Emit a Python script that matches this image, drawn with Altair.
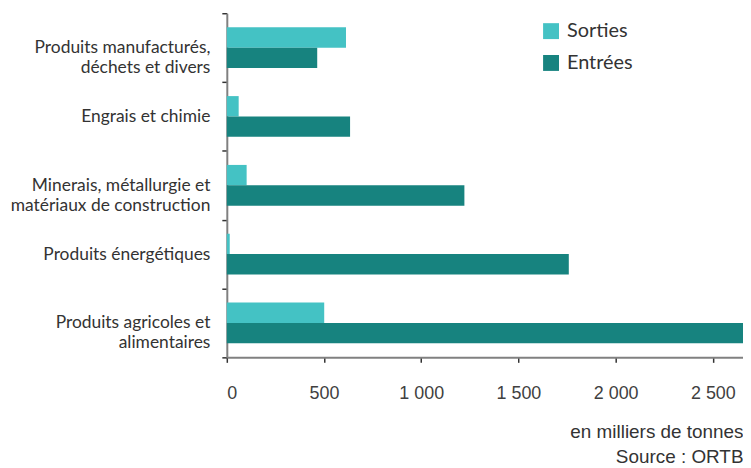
import altair as alt
import pandas as pd

categories = [
    "Produits manufacturés,\ndéchets et divers",
    "Engrais et chimie ",
    "Minerais, métallurgie et\nmatériaux de construction",
    "Produits énergétiques",
    "Produits agricoles et\nalimentaires",
]
series = ["Sorties", "Entrées"]
sorties = [613, 61, 102, 15, 501]
entrees = [465, 634, 1222, 1759, 2655]
x_ticks = [0, 500, 1000, 1500, 2000, 2500]
footer = ["en milliers de tonnes", "Source : ORTB"]

rows = []
for c, s, e in zip(categories, sorties, entrees):
    rows.append({"cat": c, "serie": "Sorties", "val": s})
    rows.append({"cat": c, "serie": "Entrées", "val": e})
df = pd.DataFrame(rows)

chart = (
    alt.Chart(df)
    .mark_bar()
    .encode(
        y=alt.Y(
            "cat:N",
            sort=categories,
            title=None,
            scale=alt.Scale(paddingInner=0, paddingOuter=0),
            axis=alt.Axis(
                tickBand="extent",
                labelExpr="split(datum.label, '\\n')",
                labelFont="Lato",
                labelFontSize=17.5,
                labelColor="#333333",
                labelLineHeight=20,
                labelPadding=12,
                labelLimit=300,
                domainColor="#808080",
                domainWidth=2,
                tickColor="#333333",
                tickWidth=1.5,
                tickSize=5,
            ),
        ),
        yOffset=alt.YOffset(
            "serie:N",
            sort=series,
            scale=alt.Scale(paddingInner=0, paddingOuter=0.69),
        ),
        x=alt.X(
            "val:Q",
            title=footer,
            scale=alt.Scale(domain=[0, 2655], nice=False),
            axis=alt.Axis(
                values=x_ticks,
                grid=False,
                labelExpr="replace(format(datum.value, ',d'), ',', ' ')",
                labelFont="Liberation Sans",
                labelFontSize=18,
                labelColor="#404040",
                labelPadding=22,
                domainColor="#808080",
                domainWidth=2,
                tickColor="#333333",
                tickWidth=1.5,
                tickSize=5,
                titleAnchor="end",
                titleAlign="right",
                titleFont="Liberation Sans",
                titleFontSize=19,
                titleFontWeight="normal",
                titleColor="#333333",
                titleLineHeight=25,
                titlePadding=21,
            ),
        ),
        color=alt.Color(
            "serie:N",
            sort=series,
            scale=alt.Scale(domain=series, range=["#44C2C4", "#17837F"]),
            legend=alt.Legend(
                title=None,
                orient="none",
                legendX=316,
                legendY=8,
                symbolType="square",
                symbolSize=256,
                symbolStrokeWidth=0,
                labelFont="Lato",
                labelFontSize=20,
                labelColor="#333333",
                rowPadding=12,
                labelOffset=6,
                padding=0,
            ),
        ),
    )
    .properties(
        width=519,
        height=346,
        autosize=alt.AutoSizeParams(type="none"),
        padding={"left": 220, "top": 4, "right": 0, "bottom": 110},
    )
    .configure_view(stroke=None)
)

chart.save("out.html", embed_options={"renderer": "svg", "actions": False})
